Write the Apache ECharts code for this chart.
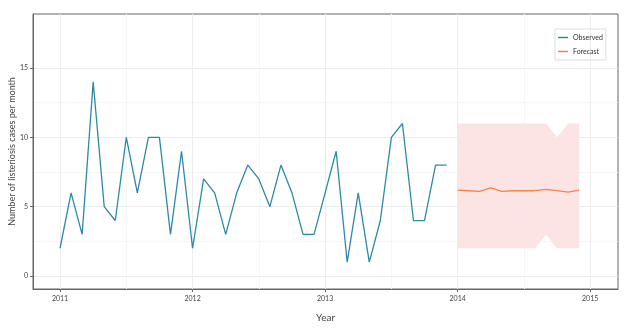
<!DOCTYPE html>
<html>
<head>
<meta charset="utf-8">
<script src="https://cdn.jsdelivr.net/npm/echarts@6/dist/echarts.min.js"></script>
<style>
  html, body { margin: 0; padding: 0; background: #fff; }
  #main { width: 628px; height: 330px; }
</style>
</head>
<body>
<div id="main"></div>
<script>
// observed monthly cases, Jan 2011 - Dec 2013
var obsStart = 2011;
var observed = [
    2, 6, 3, 14, 5, 4, 10, 6, 10, 10, 3, 9,
    2, 7, 6, 3, 6, 8, 7, 5, 8, 6, 3, 3,
    6, 9, 1, 6, 1, 4, 10, 11, 4, 4, 8, 8
];
// forecast for 2014
var fcStart = 2014;
var forecast = [6.2, 6.15, 6.1, 6.35, 6.1, 6.15, 6.15, 6.15, 6.25, 6.15, 6.05, 6.2];
var fcLow    = [2, 2, 2, 2, 2, 2, 2, 2, 3, 2, 2, 2];
var fcHigh   = [11, 11, 11, 11, 11, 11, 11, 11, 11, 10, 11, 11];
// axis ticks
var xTicks = [2011, 2012, 2013, 2014, 2015];
var yTicks = [0, 5, 10, 15];
var xMinor = [2011.5, 2012.5, 2013.5, 2014.5];
var yMinor = [2.5, 7.5, 12.5];

function monthly(start, arr){
    var out = [];
    for (var i = 0; i < arr.length; i++) {
        out.push([start + i / 12, arr[i]]);
    }
    return out;
}
// band rows: x, low, high
var bandData = fcLow.map(function(v, i){ return [fcStart + i / 12, v, fcHigh[i]]; });

var gridLines = [];
xMinor.forEach(function(v){ gridLines.push({xAxis: v, lineStyle: {color: '#f6f6f6'}}); });
yMinor.forEach(function(v){ gridLines.push({yAxis: v, lineStyle: {color: '#f6f6f6'}}); });
xTicks.forEach(function(v){ gridLines.push({xAxis: v}); });
yTicks.forEach(function(v){ gridLines.push({yAxis: v}); });

function renderBand(params, api){
    if (params.dataIndex !== 0) return null;
    var top = [], bottom = [];
    for (var i = 0; i < bandData.length; i++) {
        top.push(api.coord([bandData[i][0], bandData[i][2]]));
        bottom.unshift(api.coord([bandData[i][0], bandData[i][1]]));
    }
    return {
        type: 'polygon',
        shape: {points: top.concat(bottom)},
        style: {fill: '#fce4e4'},
        silent: true
    };
}

var font = 'Lato, "Open Sans", sans-serif';
var myChart = echarts.init(document.getElementById('main'));
var option = {
    animation: false,
    backgroundColor: '#fff',
    grid: {
        left: 33, right: 10, top: 14, bottom: 41,
        outerBoundsMode: 'none', containLabel: false,
        show: true, borderColor: '#666', borderWidth: 1
    },
    legend: {
        left: 555, top: 29,
        orient: 'vertical',
        data: ['Observed', 'Forecast'],
        icon: 'rect',
        itemWidth: 10, itemHeight: 1.5,
        itemGap: 7,
        itemStyle: {borderWidth: 0},
        padding: [5, 3, 5, 3],
        borderColor: '#dddddd', borderWidth: 1,
        textStyle: {fontFamily: font, fontSize: 7, color: '#333'}
    },
    xAxis: {
        type: 'value',
        min: 2010.796, max: 2015.21,
        name: 'Year', nameLocation: 'middle', nameGap: 24,
        nameMoveOverlap: false,
        nameTextStyle: {fontFamily: font, fontSize: 10, color: '#444'},
        axisLine: {show: true, onZero: false, lineStyle: {color: '#666'}},
        axisTick: {show: true, customValues: xTicks, length: 3, lineStyle: {color: '#666'}},
        axisLabel: {
            customValues: xTicks, fontFamily: font, fontSize: 7, color: '#444', margin: 6,
            formatter: function(v){ return String(Math.round(v)); }
        },
        splitLine: {show: false}
    },
    yAxis: {
        type: 'value',
        min: -0.94, max: 18.9,
        name: 'Number of listeriosis cases per month', nameLocation: 'middle', nameGap: 16,
        nameMoveOverlap: false,
        nameTextStyle: {fontFamily: font, fontSize: 9, color: '#444'},
        axisLine: {show: true, lineStyle: {color: '#666'}},
        axisTick: {show: true, customValues: yTicks, length: 3, lineStyle: {color: '#666'}},
        axisLabel: {customValues: yTicks, fontFamily: font, fontSize: 7, color: '#444', margin: 5},
        splitLine: {show: false}
    },
    series: [
        {
            name: 'grid', type: 'line', data: [], silent: true, z: 0,
            markLine: {
                silent: true, symbol: 'none', label: {show: false}, z: 0,
                lineStyle: {color: '#ececec', type: 'solid', width: 1},
                data: gridLines
            }
        },
        {
            name: 'band', type: 'custom', data: bandData,
            renderItem: renderBand, silent: true, z: 1,
            encode: {x: 0, y: [1, 2]}
        },
        {
            name: 'Observed', type: 'line', data: monthly(obsStart, observed),
            showSymbol: false, color: '#2b8aa8', z: 3,
            lineStyle: {width: 1.3, color: '#2b8aa8'}
        },
        {
            name: 'Forecast', type: 'line', data: monthly(fcStart, forecast),
            showSymbol: false, color: '#f3844a', z: 3,
            lineStyle: {width: 1.3, color: '#f3844a'}
        }
    ]
};
myChart.setOption(option);
</script>
</body>
</html>
